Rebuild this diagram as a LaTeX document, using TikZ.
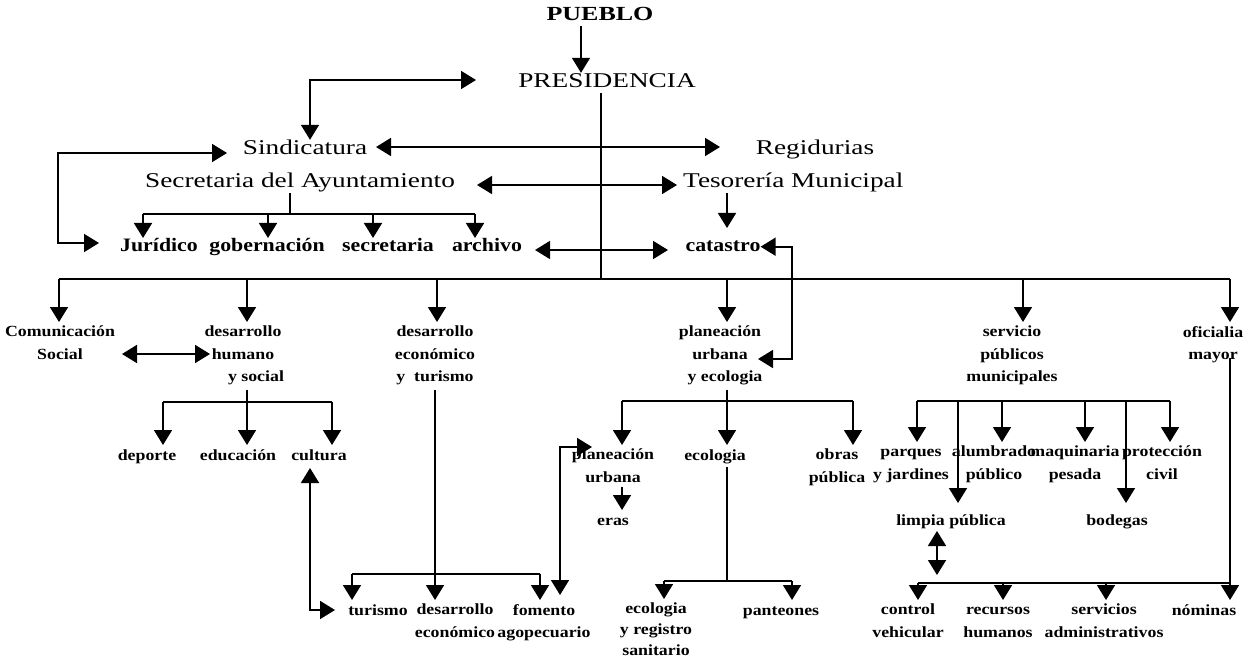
\documentclass[tikz,border=0pt]{standalone}
\usepackage{fontspec}
\setmainfont{Liberation Serif}
\newfontfamily\fBig[FakeStretch=1.3]{Liberation Serif}
\newfontfamily\fMed[FakeStretch=1.15]{Liberation Serif}
\usetikzlibrary{arrows.meta}
\tikzset{
  ln/.style={line width=1.7pt},
  arr/.style={ln,->},
  darr/.style={ln,<->},
  big/.style={font=\fBig\fontsize{21}{25}\selectfont, inner sep=1pt, text height=14pt, text depth=4pt},
  bigb/.style={big, font=\fBig\bfseries\fontsize{20}{24}\selectfont},
  med/.style={font=\fMed\bfseries\fontsize{19}{22}\selectfont, inner sep=0pt, text height=13pt, text depth=4pt, anchor=north},
  smo/.style={font=\fMed\bfseries\fontsize{15.5}{22}\selectfont, inner xsep=1pt, inner ysep=4pt, text height=11pt, text depth=3pt, anchor=north},
  smm/.style={font=\fMed\bfseries\fontsize{15.5}{22.5}\selectfont, inner xsep=1pt, inner ysep=4pt, align=center, anchor=north},
}
\begin{document}
\begin{tikzpicture}[x=1pt,y=-1pt,>={Triangle[width=18pt,length=15pt]}]
\fill[white] (0,0) rectangle (1249,660);
\useasboundingbox (0,0) rectangle (1249,660);

% ---------- top levels ----------
\node[bigb] (pueblo) at (600,16) {PUEBLO};
\node[big] (pres) at (607,83) {PRESIDENCIA};
\node[big] (sind) at (305,150) {Sindicatura};
\node[big] (regi) at (815,150) {Regidurias};
\node[big] (secr) at (300,183) {Secretaria del Ayuntamiento};
\node[big, anchor=west] (teso) at (682,183) {Tesorería Municipal};

\node[med] (juri) at (159,238) {Jurídico};
\node[med] (gobe) at (267,238) {gobernación};
\node[med] (secre) at (388,238) {secretaria};
\node[med] (arch) at (487,238) {archivo};
\node[med] (cata) at (723,238) {catastro};

% ---------- second level ----------
\node[smm] (comu) at (60,322) {Comunicación\\Social};
\node[smm] (dhum) at (243,322) {desarrollo\\humano\\\hspace*{26pt}y social};
\node[smm] (deco) at (435,322) {desarrollo\\económico\\y~~turismo};
\node[smm] (plan) at (720,322) {planeación\\urbana\\\hspace*{10pt}y ecologia};
\node[smm] (serv) at (1012,322) {servicio\\públicos\\municipales};
\node[smm] (ofic) at (1213,322) {oficialia\\mayor};

% ---------- third level ----------
\node[smo] (depo) at (147,445) {deporte};
\node[smo] (educ) at (238,445) {educación};
\node[smo] (cult) at (319,445) {cultura};

\node[smm] (plan2) at (613,445) {planeación\\urbana};
\node[smo] (ecol) at (715,445) {ecologia};
\node[smm] (obra) at (837,445) {obras\\pública};
\node[smo] (eras) at (613,510) {eras};

\node[smm] (parq) at (911,442) {\vphantom{d}parques\\y jardines};
\node[smm] (alum) at (994,442) {alumbrado\\público};
\node[smm] (maqu) at (1075,442) {maquinaria\\pesada};
\node[smm] (prot) at (1162,442) {protección\\civil};
\node[smo] (limp) at (951,510) {limpia pública};
\node[smo] (bode) at (1117,510) {bodegas};

% ---------- bottom level ----------
\node[smo] (turi) at (378,600) {turismo};
\node[smm] (dese) at (455,600) {desarrollo\\económico};
\node[smm] (fome) at (544,600) {fomento\\agopecuario};
\node[smm, font=\fMed\bfseries\fontsize{15.5}{21}\selectfont] (ecre) at (656,599) {ecologia\\y registro\\sanitario};
\node[smo] (pant) at (781,600) {panteones};
\node[smm] (cont) at (908,600) {control\\vehicular};
\node[smm] (recu) at (998,600) {\vphantom{d}recursos\\humanos};
\node[smm] (serv2) at (1104,600) {servicios\\administrativos};
\node[smo] (nomi) at (1204,600) {nóminas};

% ---------- connectors: top ----------
\draw[arr] ([xshift=-19pt]pueblo.south) -- ([xshift=-26pt]pres.north);
\coordinate (tlA) at (476,80);
\coordinate (tlB) at (310,80);
\draw[darr] (tlA) -- (tlB) -- (tlB |- sind.north);
\coordinate (srA) at (376,147);
\coordinate (srB) at (720,147);
\draw[darr] (srA) -- (srB);
\coordinate (leA) at (227,153);
\coordinate (leB) at (58,153);
\coordinate (leC) at (58,243);
\coordinate (leD) at (99,243);
\draw[darr] (leA) -- (leB) -- (leC) -- (leD);
\coordinate (stA) at (477,185);
\coordinate (stB) at (677,185);
\draw[darr] (stA) -- (stB);
\coordinate (tcA) at (727,193);
\coordinate (tcB) at (727,228);
\draw[arr] (tcA) -- (tcB);
\coordinate (acA) at (535,250);
\coordinate (acB) at (668,250);
\draw[darr] (acA) -- (acB);

% Secretaria subtree
\coordinate (sbM) at (290,214);
\coordinate (sb1) at (143,214);
\coordinate (sb2) at (268,214);
\coordinate (sb3) at (373,214);
\coordinate (sb4) at (475,214);
\draw[ln] (sbM |- secr.south) -- (sbM);
\draw[ln] (sb1) -- (sb4);
\draw[arr] (sb1) -- (sb1 |- juri.north);
\draw[arr] (sb2) -- (sb2 |- gobe.north);
\draw[arr] (sb3) -- (sb3 |- secre.north);
\draw[arr] (sb4) -- (sb4 |- arch.north);

% Presidencia to main bus
\coordinate (mbP) at (601,279);
\draw[ln] (mbP |- pres.south) -- (mbP);
\coordinate (mb1) at (59,279);
\coordinate (mb2) at (247,279);
\coordinate (mb3) at (437,279);
\coordinate (mb4) at (727,279);
\coordinate (mb5) at (1023,279);
\coordinate (mb6) at (1230,279);
\draw[ln] (mb1) -- (mb6);
\draw[arr] (mb1) -- (mb1 |- comu.north);
\draw[arr] (mb2) -- (mb2 |- dhum.north);
\draw[arr] (mb3) -- (mb3 |- deco.north);
\draw[arr] (mb4) -- (mb4 |- plan.north);
\draw[arr] (mb5) -- (mb5 |- serv.north);
\draw[arr] (mb6) -- (mb6 |- ofic.north);

% catastro <-> planeacion urbana y ecologia
\coordinate (cpC) at (792,359);
\coordinate (cpD) at (758,359);
\draw[darr] (cata.east) -| (cpC) -- (cpD);

% Comunicacion <-> desarrollo humano
\coordinate (chA) at (122,354);
\coordinate (chB) at (210,354);
\draw[darr] (chA) -- (chB);

% desarrollo humano subtree
\coordinate (dh0) at (247,402);
\coordinate (dh1) at (163,402);
\coordinate (dh3) at (332,402);
\draw[ln] (dh0 |- dhum.south) -- (dh0);
\draw[ln] (dh1) -- (dh3);
\draw[arr] (dh1) -- (dh1 |- depo.north);
\draw[arr] (dh0) -- (dh0 |- educ.north);
\draw[arr] (dh3) -- (dh3 |- cult.north);

% cultura <-> turismo
\coordinate (ctA) at (310,468);
\coordinate (ctB) at (310,610);
\coordinate (ctC) at (335,610);
\draw[darr] (ctA) -- (ctB) -- (ctC);

% desarrollo economico subtree
\coordinate (de0) at (435,574);
\coordinate (de1) at (352,574);
\coordinate (de3) at (540,574);
\draw[ln] (de0 |- deco.south) -- (de0);
\draw[ln] (de1) -- (de3);
\draw[arr] (de1) -- (de1 |- turi.north);
\draw[arr] (de0) -- (de0 |- dese.north);
\draw[arr] (de3) -- (de3 |- fome.north);

% fomento <-> planeacion urbana
\coordinate (fpA) at (592,447);
\coordinate (fpB) at (560,447);
\coordinate (fpC) at (560,595);
\draw[darr] (fpA) -- (fpB) -- (fpC);

% planeacion urbana y ecologia subtree
\coordinate (pl0) at (727,401);
\coordinate (pl1) at (622,401);
\coordinate (pl3) at (853,401);
\draw[ln] (pl0 |- plan.south) -- (pl0);
\draw[ln] (pl1) -- (pl3);
\draw[arr] (pl1) -- (pl1 |- plan2.north);
\draw[arr] (pl0) -- (pl0 |- ecol.north);
\draw[arr] (pl3) -- (pl3 |- obra.north);
\draw[arr] (pl1 |- plan2.south) -- (pl1 |- eras.north);
\coordinate (ec0) at (727,581);
\coordinate (ec1) at (664,581);
\coordinate (ec2) at (792,581);
\draw[ln] (ec0 |- ecol.south) -- (ec0);
\draw[ln] (ec1) -- (ec2);
\draw[arr] (ec1) -- (ec1 |- ecre.north);
\draw[arr] (ec2) -- (ec2 |- pant.north);

% servicios publicos subtree
\coordinate (sv1) at (917,401);
\coordinate (sv2) at (958,401);
\coordinate (sv3) at (1002,401);
\coordinate (sv4) at (1085,401);
\coordinate (sv5) at (1126,401);
\coordinate (sv6) at (1170,401);
\draw[ln] (sv1) -- (sv6);
\draw[arr] (sv1) -- (sv1 |- parq.north);
\draw[arr] (sv3) -- (sv3 |- alum.north);
\draw[arr] (sv4) -- (sv4 |- maqu.north);
\draw[arr] (sv6) -- (sv6 |- prot.north);
\coordinate (sv2e) at (958,503);
\coordinate (sv5e) at (1126,503);
\draw[arr] (sv2) -- (sv2e);
\draw[arr] (sv5) -- (sv5e);

% limpia <-> bottom bus
\coordinate (lA) at (937,531);
\coordinate (lB) at (937,575);
\draw[darr] (lA) -- (lB);

% oficialia subtree
\coordinate (of0) at (1230,358);
\draw[arr] (of0) -- (of0 |- nomi.north);
\coordinate (bb1) at (918,583);
\coordinate (bb2) at (1003,583);
\coordinate (bb3) at (1106,583);
\coordinate (bb4) at (1230,583);
\draw[ln] (bb1) -- (bb4);
\draw[arr] (bb1) -- (bb1 |- cont.north);
\draw[arr] (bb2) -- (bb2 |- recu.north);
\draw[arr] (bb3) -- (bb3 |- serv2.north);
\end{tikzpicture}
\end{document}
